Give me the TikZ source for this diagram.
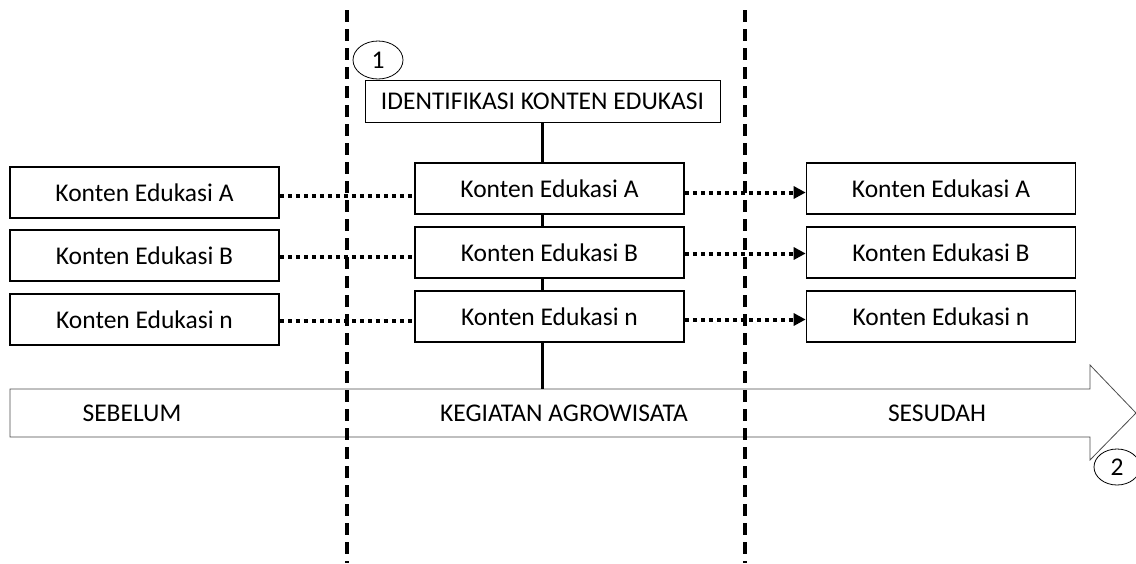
\documentclass[tikz,border=0pt]{standalone}
\usepackage{fontspec}
\setmainfont{Carlito}
\usetikzlibrary{shapes.geometric,arrows.meta}
\tikzset{
  konten/.style={draw, line width=1.6pt, fill=white, minimum width=269pt,
    minimum height=51pt, inner sep=0pt, font=\fontsize{25.5}{30}\selectfont},
  nomor/.style={draw, ellipse, line width=0.8pt, fill=white, minimum width=50pt,
    minimum height=38pt, inner sep=0pt, font=\fontsize{25.5}{30}\selectfont},
  batas/.style={line width=3.6pt, dash pattern=on 12pt off 7pt},
  titik/.style={line width=4pt, dash pattern=on 4pt off 4pt},
  label/.style={font=\fontsize{25.5}{30}\selectfont}
}
\begin{document}
\begin{tikzpicture}[x=1pt,y=-1pt]
  \useasboundingbox (0,0) rectangle (1136,563);
  % time arrow
  \draw[line width=0.8pt, draw=black!70, fill=white]
    (10,389) -- (1090,389) -- (1090,365) -- (1136,413)
    -- (1090,460) -- (1090,437) -- (10,437) -- cycle;
  \coordinate (arrtop) at (543,389);
  \node[label] (sebelum) at (132,413) {SEBELUM};
  \node[label] (kegiatan) at (564,413) {KEGIATAN AGROWISATA};
  \node[label] (sesudah) at (937,413) {SESUDAH};
  % phase borders
  \draw[batas] (347,10) -- (347,563);
  \draw[batas] (745,10) -- (745,563);
  % identification
  \node[nomor] (n1) at (378,60) {1};
  \node[draw, line width=0.8pt, fill=white, minimum width=355pt, minimum height=42pt,
    inner sep=0pt, font=\fontsize{25.5}{30}\selectfont] (ident) at (542.5,101)
    {IDENTIFIKASI KONTEN EDUKASI};
  \draw[line width=3.6pt] (ident.south) -- (ident.south |- arrtop);
  % sebelum
  \node[konten] (la) at (144.5,192.5) {Konten Edukasi A};
  \node[konten] (lb) at (144.5,255.5) {Konten Edukasi B};
  \node[konten] (ln) at (144.5,319.5) {Konten Edukasi n};
  % kegiatan
  \node[konten] (ma) at (549.5,188.5) {Konten Edukasi A};
  \node[konten] (mb) at (549.5,252.5) {Konten Edukasi B};
  \node[konten] (mn) at (549.5,316.5) {Konten Edukasi n};
  % sesudah
  \node[konten] (ra) at (941,188.5) {Konten Edukasi A};
  \node[konten] (rb) at (941,252.5) {Konten Edukasi B};
  \node[konten] (rn) at (941,316.5) {Konten Edukasi n};
  % links
  \draw[titik] ([yshift=-3pt]la.east) -- ([yshift=-3pt]la.east -| ma.west);
  \draw[titik] ([yshift=-1pt]lb.east) -- ([yshift=-1pt]lb.east -| mb.west);
  \draw[titik] ([yshift=-1pt]ln.east) -- ([yshift=-1pt]ln.east -| mn.west);
  \draw[titik, -{Triangle[length=12pt,width=12pt]}] ([yshift=-4pt]ma.east) -- ([yshift=-4pt]ra.west);
  \draw[titik, -{Triangle[length=12pt,width=12pt]}] ([yshift=-1pt]mb.east) -- ([yshift=-1pt]rb.west);
  \draw[titik, -{Triangle[length=12pt,width=12pt]}] ([yshift=-3pt]mn.east) -- ([yshift=-3pt]rn.west);
  \node[nomor, minimum width=46pt, minimum height=36pt] (n2) at (1117,467) {2};
\end{tikzpicture}
\end{document}
